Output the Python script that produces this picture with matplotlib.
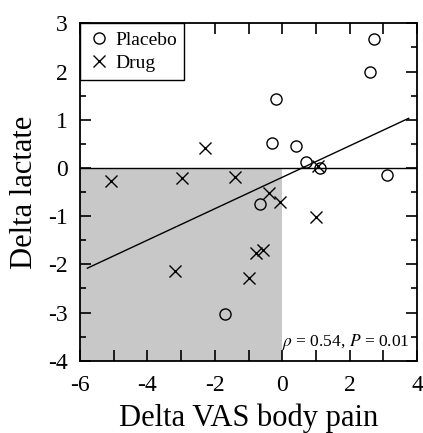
import matplotlib
matplotlib.use("Agg")
import matplotlib.pyplot as plt
from matplotlib.ticker import MultipleLocator

plt.rcParams["font.family"] = ["Liberation Serif", "DejaVu Serif"]
plt.rcParams["mathtext.fontset"] = "stix"
plt.rcParams["axes.unicode_minus"] = False

# ============================================================
# Dados
# ============================================================
placebo_x = [2.71, 2.61, -0.19, -0.30, 0.42, 0.72, 1.11, 3.10, -0.67, -1.69]
placebo_y = [2.67, 2.00, 1.44, 0.52, 0.46, 0.12, -0.01, -0.14, -0.75, -3.04]

drug_x = [-2.28, -5.08, -2.98, -1.39, -3.18, -0.38, -0.08, 1.01, -0.77, -0.57, -0.98, 1.07]
drug_y = [0.41, -0.27, -0.21, -0.18, -2.13, -0.51, -0.70, -1.01, -1.76, -1.70, -2.29, 0.04]

fit_x = [-5.78, 3.75]
fit_y = [-2.08, 1.03]

shade_x = [-6, 0]
shade_y = [-4, 0]

fig = plt.figure(figsize=(4.23, 4.33), dpi=100)
ax = fig.add_axes([0.189, 0.167, 0.797, 0.779])

ax.fill_between(shade_x, shade_y[0], shade_y[1], color="#c8c8c8", lw=0, zorder=0)
ax.axhline(0, color="black", lw=1.0, zorder=1)
ax.plot(fit_x, fit_y, color="black", lw=1.0, zorder=2)

ax.plot(placebo_x, placebo_y, "o", mfc="none", mec="black", ms=8, mew=1.0,
        label="Placebo", zorder=3)
ax.plot(drug_x, drug_y, "x", color="black", ms=8, mew=1.0, label="Drug", zorder=3)

ax.set_xlim(-6, 4)
ax.set_ylim(-4, 3)
ax.xaxis.set_major_locator(MultipleLocator(2))
ax.xaxis.set_minor_locator(MultipleLocator(1))
ax.yaxis.set_major_locator(MultipleLocator(1))
ax.yaxis.set_minor_locator(MultipleLocator(0.5))
ax.tick_params(which="both", direction="in", top=True, right=True, width=1.2,
               labelsize=17)
ax.tick_params(axis="x", which="both", length=8)
ax.tick_params(axis="y", which="major", length=8)
ax.tick_params(axis="y", which="minor", length=4)
ax.tick_params(axis="x", pad=10)
ax.tick_params(axis="y", pad=9)
for s in ax.spines.values():
    s.set_linewidth(1.3)

ax.set_xlabel("Delta VAS body pain", fontsize=22, labelpad=6)
ax.set_ylabel("Delta lactate", fontsize=22, labelpad=6)

ax.text(0.978, 0.055, r"$\rho$ = 0.54, $P$ = 0.01", transform=ax.transAxes,
        ha="right", va="center", fontsize=12.5)

leg = ax.legend(loc="upper left", fontsize=14, frameon=True, fancybox=False,
                borderaxespad=0, handletextpad=0.2, handlelength=1.2,
                borderpad=0.4, labelspacing=0.3)
leg.get_frame().set_edgecolor("black")
leg.get_frame().set_linewidth(1.0)
leg.get_frame().set_alpha(1)

fig.savefig("out.png", dpi=100)
plt.close(fig)
